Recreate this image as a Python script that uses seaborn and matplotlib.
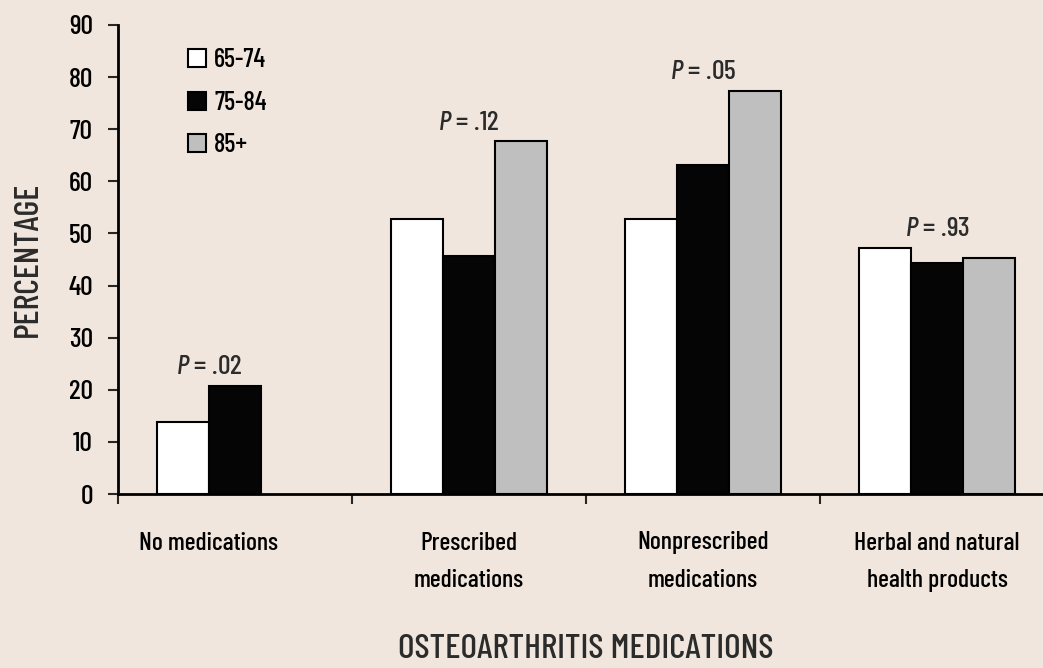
import matplotlib
matplotlib.use('Agg')
import matplotlib.pyplot as plt
from matplotlib import font_manager
import seaborn as sns
import pandas as pd
import numpy as np

categories = ['No medications', 'Prescribed\nmedications', 'Nonprescribed\nmedications',
              'Herbal and natural\nhealth products']
age_groups = ['65-74', '75-84', '85+']
pct_65_74 = [13.8, 52.8, 52.8, 47.3]
pct_75_84 = [20.8, 45.7, 63.2, 44.4]
pct_85_plus = [np.nan, 67.7, 77.4, 45.2]
p_values = ['.02', '.12', '.05', '.93']

colors = {'65-74': '#ffffff', '75-84': '#050505', '85+': '#c0bfc0'}
bg = '#f0e6dd'
text_dark = '#2b2b2b'

df = pd.DataFrame({
    'category': categories * 3,
    'age': np.repeat(age_groups, len(categories)),
    'pct': pct_65_74 + pct_75_84 + pct_85_plus,
})

sns.set_style('ticks')
names = {f.name for f in font_manager.fontManager.ttflist}
preferred = [n for n in ['Barlow Condensed', 'Archivo Narrow'] if n in names]
plt.rcParams['font.family'] = preferred[:1] + ['DejaVu Sans']
plt.rcParams['font.weight'] = 'medium'
plt.rcParams['axes.labelweight'] = 'medium'
plt.rcParams['text.color'] = 'black'
plt.rcParams['xtick.labelcolor'] = 'black'
plt.rcParams['ytick.labelcolor'] = 'black'
main_font = plt.rcParams['font.family'][0]
plt.rcParams['mathtext.fontset'] = 'custom'
plt.rcParams['mathtext.it'] = main_font + ':italic:medium'
plt.rcParams['mathtext.rm'] = main_font + ':medium'

fig = plt.figure(figsize=(10.43, 6.68), dpi=100, facecolor=bg)
ax = fig.add_axes([118 / 1043, 174 / 668, 936 / 1043, 469 / 668])
ax.set_facecolor(bg)

sns.barplot(data=df, x='category', y='pct', hue='age', order=categories,
            hue_order=age_groups, palette=colors, width=0.67, errorbar=None,
            edgecolor='black', linewidth=1.5, ax=ax)

# collect drawn bars per category (the missing 85+ bar is simply absent)
groups = {i: [] for i in range(len(categories))}
for cont in ax.containers:
    for bar in cont:
        cx = bar.get_x() + bar.get_width() / 2
        h = bar.get_height()
        if np.isfinite(h) and h > 0:
            groups[int(round(cx))].append((cx, h))

# P-value labels above each group, centred on the bars that exist
centers = []
for i, p in enumerate(p_values):
    xs = [b[0] for b in groups[i]]
    hs = [b[1] for b in groups[i]]
    cx = float(np.mean(xs))
    centers.append(cx)
    ax.text(cx, max(hs) + 2.2, f'$P$ = {p}', ha='center', va='baseline',
            fontsize=20, color=text_dark)

ax.set_xlim(-0.5, 3.5)
ax.set_ylim(0, 90)
ax.set_yticks(range(0, 100, 10))
ax.set_xticks(centers, labels=categories)
ax.set_xticks([-0.5, 0.5, 1.5, 2.5], minor=True)
ax.tick_params(axis='x', which='major', length=0, pad=27, labelsize=18.5)
ax.tick_params(axis='x', which='minor', length=7, width=1.5, direction='out')
ax.tick_params(axis='y', length=7, width=1.5, pad=11, labelsize=20)
for lbl in ax.get_xticklabels():
    lbl.set_linespacing(1.8)

sns.despine(ax=ax)
for side in ['left', 'bottom']:
    ax.spines[side].set_linewidth(2)
    ax.spines[side].set_color('black')

ax.set_ylabel('PERCENTAGE', fontsize=25, color=text_dark)
ax.yaxis.set_label_coords(-0.096, 0.5)
ax.yaxis.label.set_va('center')
ax.set_xlabel('OSTEOARTHRITIS MEDICATIONS', fontsize=25.5, color=text_dark)
ax.xaxis.set_label_coords(0.5, -0.35)
ax.xaxis.label.set_va('baseline')

sns.move_legend(ax, 'upper left', bbox_to_anchor=(0.075, 0.95), frameon=False,
                title=None, fontsize=19, handlelength=0.66, handleheight=0.66,
                handletextpad=0.32, labelspacing=0.7, borderpad=0, borderaxespad=0)

fig.savefig('out.png', dpi=100, facecolor=bg)
